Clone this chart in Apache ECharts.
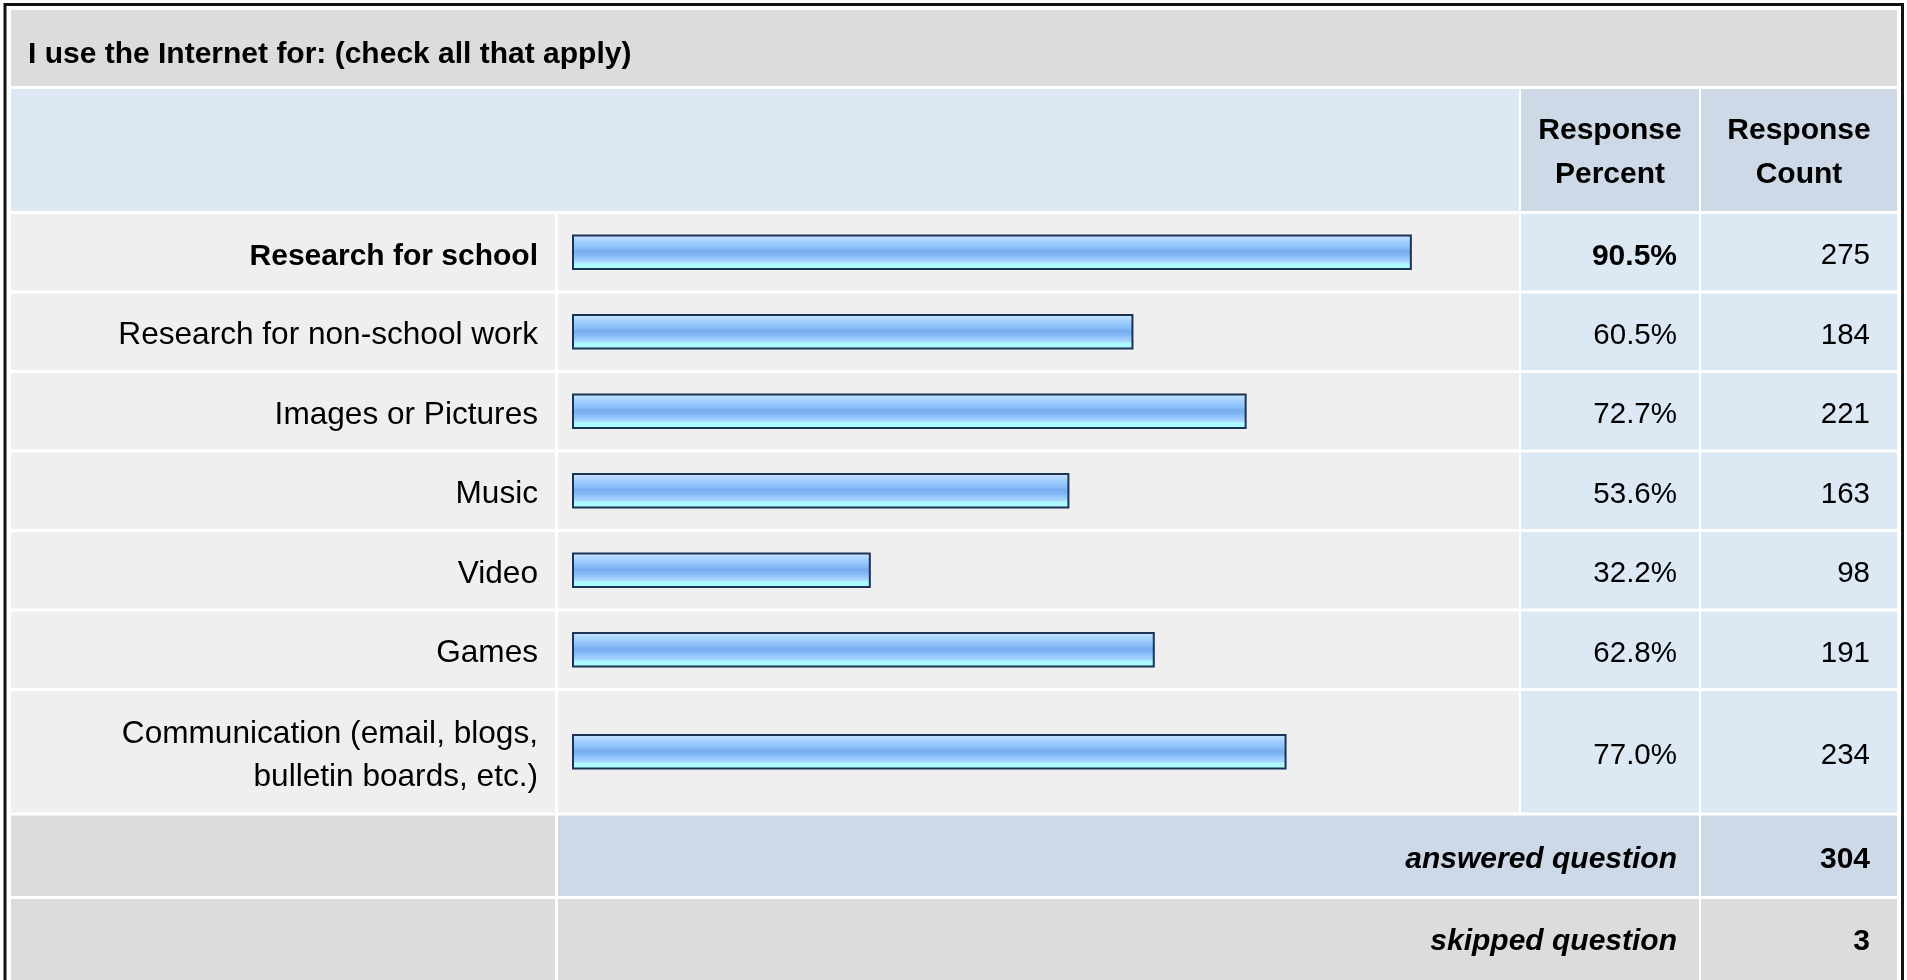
<!DOCTYPE html>
<html>
<head>
<meta charset="utf-8">
<script src="https://cdn.jsdelivr.net/npm/echarts@6/dist/echarts.min.js"></script>
<style>html,body{margin:0;padding:0;background:#fff}#c{width:1907px;height:980px}</style>
</head>
<body>
<div id="c"></div>
<script>
// ---------------- data ----------------
const questionTitle = 'I use the Internet for: (check all that apply)';
const headerPercent = 'Response\nPercent';
const headerCount = 'Response\nCount';
const categories = [
  'Research for school',
  'Research for non-school work',
  'Images or Pictures',
  'Music',
  'Video',
  'Games',
  'Communication (email, blogs,\nbulletin boards, etc.)'
];
const percents = [90.5, 60.5, 72.7, 53.6, 32.2, 62.8, 77.0];
const counts = [275, 184, 221, 163, 98, 191, 234];
const boldRows = [0];
const summaryLabels = ['answered question', 'skipped question'];
const summaryValues = [304, 3];

// ---------------- layout / style ----------------
const FONT = "'Liberation Sans', Arial, Helvetica, sans-serif";
const FS = 30, FS_LABEL = 31.6, FS_VAL = 29.5;
const colL = [11, 555], colB = [558, 1519], colP = [1521, 1699], colC = [1701, 1897];
const titleRow = [10, 86], headerRow = [89, 211];
const GAP = 3;
const firstRowTop = 214;
const oneLineRowH = 76.5, extraLineH = 45;
const summaryRowH = [80.5, 84];
const summaryTextDy = [4, 1];
const C_GREY = '#dcdcdc', C_LIGHT = '#efefef', C_BLUE = '#dde8f5', C_BLUE2 = '#cdd9e6';

// row positions derived from label line counts
const rowTops = [], rowHs = [];
let yCur = firstRowTop;
categories.forEach(c => {
  const lines = c.split('\n').length;
  const h = oneLineRowH + (lines - 1) * extraLineH;
  rowTops.push(yCur); rowHs.push(h);
  yCur += h + GAP;
});
const sumTops = [];
summaryRowH.forEach(h => { sumTops.push(yCur); yCur += h + GAP; });

const rowData = categories.map((c, i) => [percents[i], rowTops[i], rowHs[i], i]);
const sumData = summaryLabels.map((s, i) => [0, sumTops[i], summaryRowH[i], i]);

const barGradient = new echarts.graphic.LinearGradient(0, 0, 0, 1, [
  { offset: 0, color: '#d2e8ff' },
  { offset: 0.12, color: '#b4daff' },
  { offset: 0.25, color: '#9ccbff' },
  { offset: 0.4, color: '#88bcf8' },
  { offset: 0.47, color: '#76abf0' },
  { offset: 0.58, color: '#82b7f5' },
  { offset: 0.68, color: '#98c8fd' },
  { offset: 0.78, color: '#aad8ff' },
  { offset: 0.82, color: '#acf8ff' },
  { offset: 1, color: '#acfbff' }
]);

function rect(x0, x1, y, h, fill) {
  return { type: 'rect', shape: { x: x0, y: y, width: x1 - x0, height: h }, style: { fill: fill } };
}
function txt(x, y, s, opt) {
  return { type: 'text', x: x, y: y, style: Object.assign({
    text: s, font: 'normal ' + FS + 'px ' + FONT, fill: '#000', align: 'right', verticalAlign: 'middle', lineHeight: 43
  }, opt || {}) };
}

const chart = echarts.init(document.getElementById('c'), null, { renderer: 'canvas' });
chart.setOption({
  backgroundColor: '#ffffff',
  animation: false,
  grid: { left: 572, width: 928, top: 0, height: 980 },
  xAxis: { type: 'value', min: 0, max: 100, show: false },
  yAxis: { type: 'value', min: 0, max: 980, inverse: true, show: false },
  graphic: [
    { type: 'rect', z: 0, shape: { x: 5, y: 4.5, width: 1897.5, height: 1000 }, style: { fill: 'none', stroke: '#111', lineWidth: 3 } },
    Object.assign(rect(colL[0], colC[1], titleRow[0], titleRow[1] - titleRow[0], C_GREY), { z: 0 }),
    Object.assign(rect(colL[0], colB[1], headerRow[0], headerRow[1] - headerRow[0], C_BLUE), { z: 0 }),
    Object.assign(rect(colP[0], colP[1], headerRow[0], headerRow[1] - headerRow[0], C_BLUE2), { z: 0 }),
    Object.assign(rect(colC[0], colC[1], headerRow[0], headerRow[1] - headerRow[0], C_BLUE2), { z: 0 }),
    Object.assign(txt(28, (titleRow[0] + titleRow[1]) / 2 + 7, questionTitle, { align: 'left', font: 'bold ' + FS + 'px ' + FONT }), { z: 1 }),
    Object.assign(txt((colP[0] + colP[1]) / 2, (headerRow[0] + headerRow[1]) / 2 + 3, headerPercent, { align: 'center', font: 'bold ' + FS + 'px ' + FONT, lineHeight: 44 }), { z: 1 }),
    Object.assign(txt((colC[0] + colC[1]) / 2, (headerRow[0] + headerRow[1]) / 2 + 3, headerCount, { align: 'center', font: 'bold ' + FS + 'px ' + FONT, lineHeight: 44 }), { z: 1 })
  ],
  series: [
    {
      type: 'custom',
      clip: false,
      encode: { x: 0, y: 1 },
      data: rowData,
      renderItem: function (params, api) {
        const v = api.value(0), top = api.value(1), h = api.value(2), i = api.value(3);
        const yTop = api.coord([0, top])[1];
        const yBot = api.coord([0, top + h])[1];
        const hh = yBot - yTop, cy = (yTop + yBot) / 2;
        const x0 = api.coord([0, top])[0], x1 = api.coord([v, top])[0];
        const bold = boldRows.indexOf(i) >= 0;
        const fLabel = bold ? ('bold ' + FS + 'px ' + FONT) : ('normal ' + FS_LABEL + 'px ' + FONT);
        const fVal = bold ? ('bold ' + FS + 'px ' + FONT) : ('normal ' + FS_VAL + 'px ' + FONT);
        const barH = 35.5;
        return {
          type: 'group',
          children: [
            rect(colL[0], colL[1], yTop, hh, C_LIGHT),
            rect(colB[0], colB[1], yTop, hh, C_LIGHT),
            rect(colP[0], colP[1], yTop, hh, C_BLUE),
            rect(colC[0], colC[1], yTop, hh, C_BLUE),
            {
              type: 'rect',
              shape: { x: x0 + 1, y: cy - barH / 2 + 1, width: x1 - x0 - 2, height: barH - 2 },
              style: { fill: barGradient, stroke: '#1b3354', lineWidth: 2 }
            },
            txt(colL[1] - 17, cy + 4, categories[i], { font: fLabel }),
            txt(colP[1] - 22, cy + 4, percents[i].toFixed(1) + '%', { font: fVal }),
            txt(colC[1] - 27, cy + 4, String(counts[i]), { font: 'normal ' + FS_VAL + 'px ' + FONT })
          ]
        };
      }
    },
    {
      type: 'custom',
      clip: false,
      encode: { x: 0, y: 1 },
      data: sumData,
      renderItem: function (params, api) {
        const top = api.value(1), h = api.value(2), i = api.value(3);
        const yTop = api.coord([0, top])[1];
        const yBot = api.coord([0, top + h])[1];
        const hh = yBot - yTop, cy = (yTop + yBot) / 2 + summaryTextDy[i];
        const mid = i === 0 ? C_BLUE2 : C_GREY;
        return {
          type: 'group',
          children: [
            rect(colL[0], colL[1], yTop, hh, C_GREY),
            rect(colB[0], colP[1], yTop, hh, mid),
            rect(colC[0], colC[1], yTop, hh, mid),
            txt(colP[1] - 22, cy, summaryLabels[i], { font: 'italic bold ' + FS + 'px ' + FONT }),
            txt(colC[1] - 27, cy, String(summaryValues[i]), { font: 'bold ' + FS + 'px ' + FONT })
          ]
        };
      }
    }
  ]
});
</script>
</body>
</html>
